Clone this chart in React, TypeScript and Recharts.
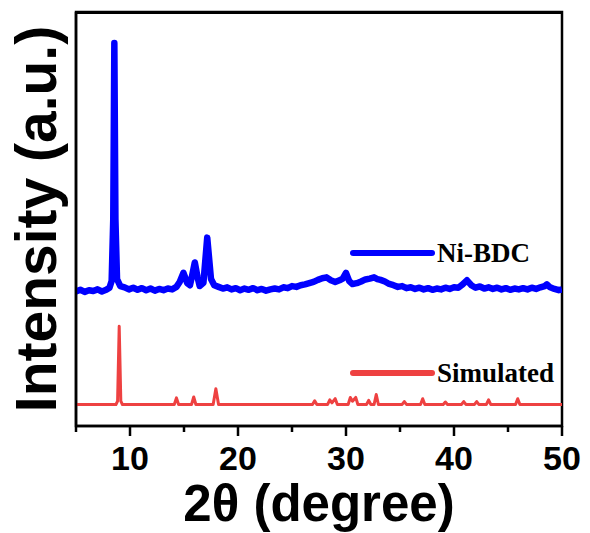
import { LineChart, Line, XAxis, YAxis, ReferenceArea, Customized } from 'recharts';

// Ni-BDC measured pattern
const niTheta = [
  5.0, 5.4, 5.8, 6.2, 6.6, 7.0, 7.4, 7.8, 8.1, 8.3, 8.45, 8.55, 8.65, 8.8, 9.1, 9.5, 9.9,
  10.3, 10.7, 11.1, 11.5, 11.9, 12.3, 12.7, 13.1, 13.5, 13.9, 14.3, 14.6, 14.95, 15.3, 15.55,
  15.75, 16.0, 16.25, 16.45, 16.8, 17.15, 17.5, 17.8, 18.2, 18.6, 19.0, 19.4, 19.8, 20.2, 20.6,
  21.0, 21.4, 21.8, 22.2, 22.6, 23.0, 23.4, 23.8, 24.2, 24.6, 25.0, 25.4, 25.8, 26.2, 26.6,
  27.0, 27.4, 27.8, 28.2, 28.6, 29.0, 29.4, 29.7, 30.0, 30.3, 30.6, 31.0, 31.4, 31.8, 32.2,
  32.6, 32.9, 33.2, 33.6, 34.0, 34.4, 34.8, 35.2, 35.6, 36.0, 36.4, 36.8, 37.2, 37.6, 38.0,
  38.4, 38.8, 39.2, 39.6, 40.0, 40.4, 40.8, 41.2, 41.6, 42.0, 42.4, 42.8, 43.2, 43.6, 44.0,
  44.4, 44.8, 45.2, 45.6, 46.0, 46.4, 46.8, 47.2, 47.6, 48.0, 48.4, 48.6, 48.9, 49.3, 49.7, 50.0,
];
const niIntensity = [
  32.5, 32.9, 32.4, 32.8, 32.6, 33.0, 32.5, 32.9, 33.4, 35.0, 50.0, 92.5, 50.0, 35.5, 33.8, 33.5, 33.0,
  33.4, 32.9, 33.3, 32.8, 33.2, 32.7, 33.1, 32.8, 33.2, 33.0, 33.6, 34.8, 37.0, 34.5, 34.0,
  36.3, 39.5, 36.0, 33.8, 34.6, 45.5, 35.5, 34.0, 33.6, 33.2, 33.5, 33.0, 33.3, 32.8, 33.2,
  32.9, 33.3, 32.8, 33.1, 32.7, 33.0, 33.2, 33.0, 33.5, 33.3, 33.8, 33.6, 34.0, 34.2, 34.5,
  34.8, 35.3, 35.7, 35.9, 35.2, 34.8, 35.2, 35.6, 37.0, 35.0, 34.3, 34.5, 34.9, 35.4, 35.6,
  35.9, 35.5, 35.3, 34.9, 34.3, 34.0, 33.6, 33.8, 33.3, 33.5, 33.1, 33.4, 33.0, 33.3, 32.9,
  33.2, 33.0, 33.4, 33.1, 33.5, 33.4, 34.2, 35.2, 34.0, 33.4, 33.7, 33.2, 33.5, 33.1, 33.4,
  33.0, 33.3, 32.9, 33.2, 33.0, 33.3, 33.0, 33.4, 33.1, 33.5, 33.8, 34.2, 33.5, 33.1, 32.8, 33.0,
];

// Simulated pattern
const simTheta = [
  5.0, 8.7, 8.85, 9.0, 9.15, 9.3, 14.1, 14.3, 14.5, 15.7, 15.9, 16.1, 17.7, 17.95, 18.2,
  26.9, 27.1, 27.3, 28.3, 28.5, 28.7, 29.0, 29.2, 30.2, 30.4, 30.6, 30.9, 31.1, 31.9, 32.1,
  32.3, 32.6, 32.8, 33.0, 35.2, 35.4, 35.6, 36.9, 37.1, 37.3, 39.0, 39.2, 39.4, 40.7, 40.9,
  41.1, 41.9, 42.1, 42.3, 43.0, 43.2, 43.4, 45.7, 45.9, 46.1, 50.0,
];
const simIntensity = [
  5.2, 5.2, 6.0, 24.1, 6.0, 5.2, 5.2, 6.8, 5.2, 5.2, 7.0, 5.2, 5.2, 9.0, 5.2,
  5.2, 6.1, 5.2, 5.2, 6.3, 5.6, 6.6, 5.2, 5.2, 6.9, 6.0, 6.9, 5.2, 5.2, 6.2,
  5.2, 5.2, 7.6, 5.2, 5.2, 5.9, 5.2, 5.2, 6.6, 5.2, 5.2, 5.8, 5.2, 5.2, 5.9,
  5.2, 5.2, 5.9, 5.2, 5.2, 6.3, 5.2, 5.2, 6.6, 5.2, 5.2,
];

const xTicks = [5, 10, 15, 20, 25, 30, 35, 40, 45, 50];
const seriesNames = ['Ni-BDC', 'Simulated'];
const seriesColors = ['#0000ff', '#ee4141'];

const niData = niTheta.map((x, i) => ({ x, y: niIntensity[i] }));
const simData = simTheta.map((x, i) => ({ x, y: simIntensity[i] }));

const SANS = '"Liberation Sans", Arial, sans-serif';
const SERIF = '"Liberation Serif", "Times New Roman", serif';
const frame = { stroke: '#000', strokeWidth: 2.5 };

// chart layout
const W = 590;
const H = 533;
const M_TOP = 12;
const M_RIGHT = 28;
const Y_AXIS_W = 76;
const X_AXIS_H = 107;

const AxisTick = (props: any) => {
  const { x, y, payload } = props;
  const major = payload.value % 10 === 0;
  return (
    <g>
      <line x1={x} x2={x} y1={y} y2={y + (major ? 10 : 6)} stroke="#000" strokeWidth={2.5} />
      {major && payload.value > 5 && (
        <text x={x} y={y + 44} textAnchor="middle" fontFamily={SANS} fontWeight="bold" fontSize={34} fill="#000">
          {payload.value}
        </text>
      )}
    </g>
  );
};

const XTitle = (props: any) => {
  const vb = props.viewBox;
  return (
    <text x={vb.x + vb.width / 2} y={vb.y + 95} textAnchor="middle" fontFamily={SANS} fontWeight="bold" fontSize={51} fill="#000">
      2θ (degree)
    </text>
  );
};

const YTitle = (props: any) => {
  const vb = props.viewBox;
  const cx = vb.x + 56;
  const cy = vb.y + vb.height / 2;
  return (
    <text x={cx} y={cy} transform={`rotate(-90, ${cx}, ${cy})`} textAnchor="middle" fontFamily={SANS} fontWeight="bold" fontSize={57} fill="#000">
      Intensity (a.u.)
    </text>
  );
};

// legend drawn inside the plot, next to each trace
const InPlotLegend = () => {
  const rows = [253, 373];
  return (
    <g>
      {seriesNames.map((name, i) => (
        <g key={name}>
          <line x1={353} x2={432} y1={rows[i]} y2={rows[i]} stroke={seriesColors[i]} strokeWidth={6} strokeLinecap="round" />
          <text x={437} y={rows[i] + 9} fontFamily={SERIF} fontWeight="bold" fontSize={27} fill="#000">
            {name}
          </text>
        </g>
      ))}
    </g>
  );
};

export default function App() {
  return (
    <div style={{ position: 'absolute', left: 0, top: 0, width: W, height: H }}>
      <LineChart width={W} height={H} margin={{ top: M_TOP, right: M_RIGHT, bottom: 0, left: 0 }}>
        <XAxis
          dataKey="x"
          type="number"
          domain={[5, 50]}
          ticks={xTicks}
          allowDataOverflow
          height={X_AXIS_H}
          tickSize={0}
          tickMargin={0}
          tickLine={false}
          tick={<AxisTick />}
          axisLine={frame}
          label={<XTitle />}
        />
        <YAxis
          type="number"
          domain={[0, 100]}
          allowDataOverflow
          width={Y_AXIS_W}
          tick={false}
          tickLine={false}
          axisLine={frame}
          label={<YTitle />}
        />
        <ReferenceArea x1={5} x2={50} y1={0} y2={100} ifOverflow="visible" fill="none" stroke="#000" strokeWidth={2.5} />
        <Line
          data={niData}
          dataKey="y"
          type="linear"
          stroke={seriesColors[0]}
          strokeWidth={6.5}
          strokeLinejoin="round"
          dot={false}
          isAnimationActive={false}
        />
        <Line
          data={simData}
          dataKey="y"
          type="linear"
          stroke={seriesColors[1]}
          strokeWidth={3}
          strokeLinejoin="round"
          dot={false}
          isAnimationActive={false}
        />
        <Customized component={InPlotLegend} />
      </LineChart>
      {/* top edge of the frame, laid over the chart */}
      <div
        style={{
          position: 'absolute',
          left: Y_AXIS_W - 1,
          top: M_TOP - 1,
          width: W - M_RIGHT - Y_AXIS_W + 2,
          height: 3,
          background: '#000',
          zIndex: 10,
          pointerEvents: 'none',
        }}
      />
    </div>
  );
}
